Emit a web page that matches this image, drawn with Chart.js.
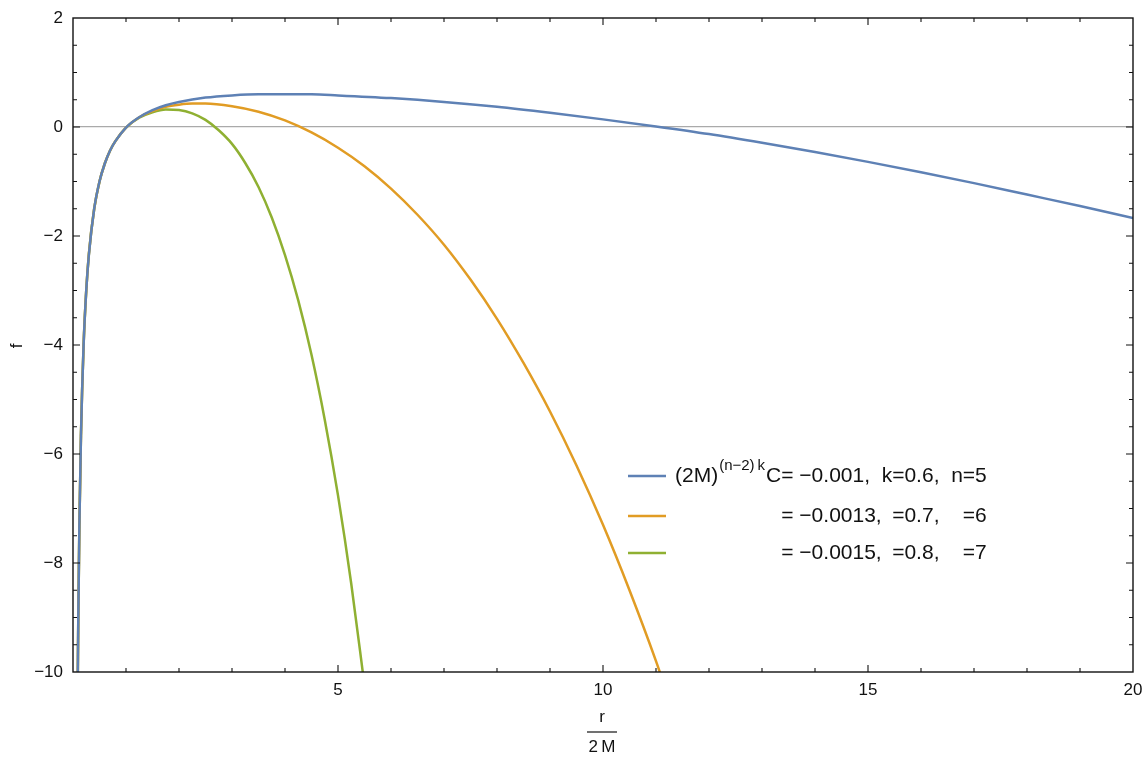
<!DOCTYPE html>
<html>
<head>
<meta charset="utf-8">
<script src="https://cdn.jsdelivr.net/npm/chart.js@4.4.1/dist/chart.umd.min.js"></script>
<style>
  html, body { margin: 0; padding: 0; background: #fff; }
  #wrap { width: 1145px; height: 760px; position: relative; }
</style>
</head>
<body>
<div id="wrap"><canvas id="chartF"></canvas></div>
<script>
// valores
var xAzul = [0.09,0.1,0.12,0.15,0.2,0.25,0.3,0.4,0.5,0.6,0.7,0.8,1,1.25,1.5,1.75,2,2.5,3,3.5,4,4.5,5,6,7,8,9,10,11,12,13,14,15,16,17,18,19,20];
var yAzul = [-10.11,-9.0,-7.33,-5.67,-4.0,-3.0,-2.34,-1.5,-1.0,-0.67,-0.43,-0.26,-0.01,0.18,0.31,0.40,0.46,0.54,0.58,0.60,0.60,0.60,0.58,0.53,0.46,0.37,0.26,0.14,0.01,-0.13,-0.29,-0.46,-0.64,-0.83,-1.03,-1.24,-1.45,-1.67];

var xNaranja = [0.09,0.1,0.12,0.15,0.2,0.25,0.3,0.4,0.5,0.6,0.7,0.8,1,1.25,1.5,1.75,2,2.25,2.5,3,3.5,4,4.5,5,5.5,6,6.5,7,7.5,8,8.5,9,9.5,10,10.5,11,11.2];
var yNaranja = [-10.11,-9.0,-7.33,-5.67,-4.0,-3.0,-2.33,-1.5,-1.0,-0.67,-0.43,-0.26,-0.01,0.18,0.29,0.37,0.41,0.43,0.43,0.38,0.28,0.12,-0.10,-0.38,-0.72,-1.13,-1.61,-2.16,-2.80,-3.52,-4.33,-5.22,-6.21,-7.30,-8.50,-9.80,-10.37];

var xVerde = [0.09,0.1,0.12,0.15,0.2,0.25,0.3,0.4,0.5,0.6,0.7,0.8,1,1.25,1.5,1.75,2,2.25,2.5,2.75,3,3.25,3.5,3.75,4,4.25,4.5,4.75,5,5.25,5.5];
var yVerde = [-10.11,-9.0,-7.33,-5.67,-4.0,-3.0,-2.33,-1.5,-1.0,-0.67,-0.43,-0.26,-0.01,0.17,0.27,0.32,0.31,0.25,0.13,-0.06,-0.31,-0.66,-1.10,-1.66,-2.35,-3.18,-4.18,-5.37,-6.76,-8.38,-10.25];

var ticksX = [5, 10, 15, 20];
var ticksY = [2, 0, -2, -4, -6, -8, -10];

var valoresC = ['\u22120.001', '\u22120.0013', '\u22120.0015'];
var valoresK = ['0.6', '0.7', '0.8'];
var valoresN = ['5', '6', '7'];

var colores = ['#5E81B5', '#E19C24', '#8FB032'];
var fuente = '"Liberation Sans", Arial, sans-serif';

function puntos(xs, ys) {
    return xs.map(function (x, i) { return { x: x, y: ys[i] }; });
}

function serie(xs, ys, color) {
    return {
        data: puntos(xs, ys), borderColor: color, borderWidth: 2.5,
        pointRadius: 0, fill: false, cubicInterpolationMode: 'monotone'
    };
}

function etiqueta(v) {
    return String(v).replace('-', '\u2212');
}

var marco = {
    id: 'marco',
    afterDatasetsDraw: function (chart) {
        var c = chart.ctx, a = chart.chartArea;
        var sx = chart.scales.x, sy = chart.scales.y;
        c.save();
        c.strokeStyle = '#111';
        c.lineWidth = 1.4;
        c.strokeRect(a.left, a.top, a.right - a.left, a.bottom - a.top);
        c.lineWidth = 1.1;
        c.beginPath();
        sx.ticks.forEach(function (t) {
            var px = sx.getPixelForValue(t.value);
            var l = ticksX.indexOf(t.value) >= 0 ? 7 : 4;
            if (px <= a.left + 1 || px >= a.right - 1) return;
            c.moveTo(px, a.bottom); c.lineTo(px, a.bottom - l);
            c.moveTo(px, a.top); c.lineTo(px, a.top + l);
        });
        sy.ticks.forEach(function (t) {
            var py = sy.getPixelForValue(t.value);
            var l = ticksY.indexOf(t.value) >= 0 ? 7 : 4;
            if (py <= a.top + 1 || py >= a.bottom - 1) return;
            c.moveTo(a.left, py); c.lineTo(a.left + l, py);
            c.moveTo(a.right, py); c.lineTo(a.right - l, py);
        });
        c.stroke();

        // titulos de ejes
        c.fillStyle = '#111';
        c.font = '17px ' + fuente;
        c.textAlign = 'center';
        c.textBaseline = 'middle';
        var cx = (a.left + a.right) / 2;
        c.fillText('r', cx - 1, 717);
        c.fillText('2\u2009M', cx - 1, 747);
        c.beginPath();
        c.lineWidth = 1.2;
        c.moveTo(cx - 16, 732); c.lineTo(cx + 14, 732);
        c.stroke();
        c.save();
        c.translate(17, 346);
        c.rotate(-Math.PI / 2);
        c.fillText('f', 0, 0);
        c.restore();

        // leyenda
        var fs = 21;
        var x0 = 675, filas = [476, 516, 553];
        c.textAlign = 'left';
        for (var i = 0; i < 3; i++) {
            c.beginPath();
            c.strokeStyle = colores[i];
            c.lineWidth = 2.5;
            c.moveTo(628, filas[i]); c.lineTo(666, filas[i]);
            c.stroke();
        }
        c.fillStyle = '#111';
        var y1 = filas[0];
        c.font = fs + 'px ' + fuente;
        c.fillText('(2M)', x0, y1);
        var x = x0 + c.measureText('(2M)').width + 1;
        c.font = '15px ' + fuente;
        c.fillText('(n\u22122)\u2009k', x, y1 - 10);
        x += c.measureText('(n\u22122)\u2009k').width + 1;
        c.font = fs + 'px ' + fuente;
        c.fillText('C', x, y1);
        var xC = x + c.measureText('C').width;
        var t1 = '= ' + valoresC[0] + ',  k';
        var xK = xC + c.measureText(t1).width;
        var t2 = '=' + valoresK[0] + ',  n';
        var xN = xK + c.measureText(t2).width;
        c.fillText(t1, xC, y1);
        c.fillText(t2, xK, y1);
        c.fillText('=' + valoresN[0], xN, y1);
        for (var j = 1; j < 3; j++) {
            c.fillText('= ' + valoresC[j] + ',', xC, filas[j]);
            c.fillText('=' + valoresK[j] + ',', xK, filas[j]);
            c.fillText('=' + valoresN[j], xN, filas[j]);
        }
        c.restore();
    }
};

new Chart(document.getElementById('chartF'), {
    type: 'line',
    data: {
        datasets: [
            serie(xAzul, yAzul, colores[0]),
            serie(xNaranja, yNaranja, colores[1]),
            serie(xVerde, yVerde, colores[2])
        ]
    },
    options: {
        responsive: true, maintainAspectRatio: false, animation: false,
        layout: { padding: { top: 18, right: 12, left: 0, bottom: 0 } },
        plugins: { legend: { display: false }, tooltip: { enabled: false } },
        scales: {
            x: {
                type: 'linear', min: 0, max: 20,
                afterFit: function (s) { s.height = 88; s.paddingLeft = 0; s.paddingRight = 0; },
                border: { display: false },
                grid: { display: false, drawTicks: false },
                ticks: {
                    stepSize: 1, autoSkip: false, maxRotation: 0, padding: 8,
                    color: '#111', font: { family: fuente, size: 17 },
                    callback: function (v) { return ticksX.indexOf(v) >= 0 ? etiqueta(v) : ''; }
                }
            },
            y: {
                type: 'linear', min: -10, max: 2,
                afterFit: function (s) { s.width = 73; s.paddingTop = 0; s.paddingBottom = 0; },
                border: { display: false },
                grid: {
                    drawTicks: false, lineWidth: 1.2,
                    color: function (ctx) { return ctx.tick && ctx.tick.value === 0 ? '#aaaaaa' : 'rgba(0,0,0,0)'; }
                },
                ticks: {
                    stepSize: 0.5, autoSkip: false, padding: 10,
                    color: '#111', font: { family: fuente, size: 17 },
                    callback: function (v) { return ticksY.indexOf(v) >= 0 ? etiqueta(v) : ''; }
                }
            }
        }
    },
    plugins: [marco]
});
</script>
</body>
</html>
